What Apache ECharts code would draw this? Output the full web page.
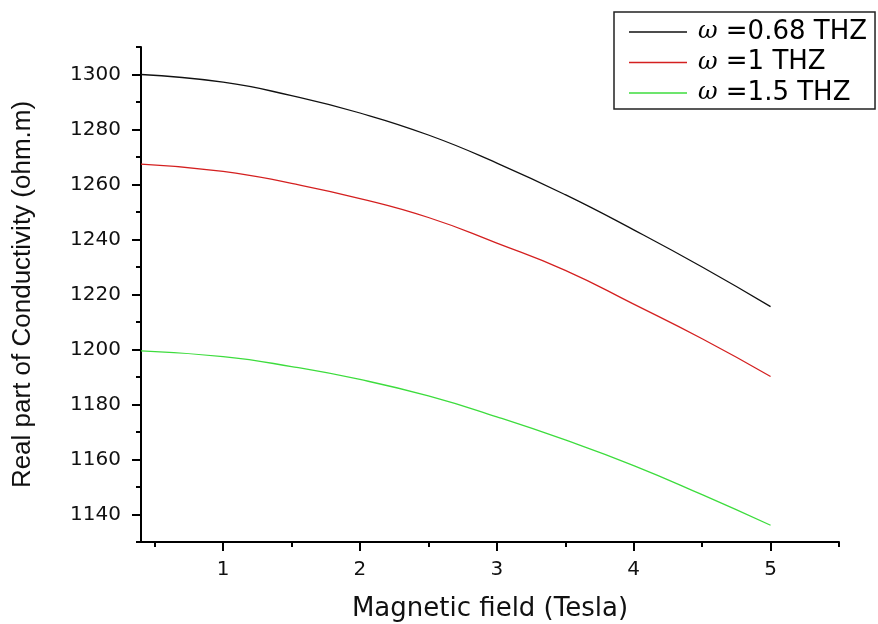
<!DOCTYPE html>
<html>
<head>
<meta charset="utf-8">
<script src="https://cdn.jsdelivr.net/npm/echarts@6/dist/echarts.min.js"></script>
<style>
html,body{margin:0;padding:0;background:#fff;}
#c{width:878px;height:624px;}
</style>
</head>
<body>
<div id="c"></div>
<script>
// ---- data ----
const bField = [0.4, 1, 1.5, 2, 2.5, 3, 3.5, 4, 4.5, 5];
const sigma068 = [1300.0, 1297.2, 1292.3, 1286.0, 1278.0, 1267.8, 1256.3, 1243.5, 1230.0, 1215.6];
const sigma1 = [1267.4, 1264.8, 1260.4, 1254.9, 1248.0, 1238.7, 1228.8, 1216.5, 1203.9, 1190.2];
const sigma15 = [1199.5, 1197.4, 1193.8, 1189.1, 1183.1, 1175.5, 1167.1, 1157.8, 1147.2, 1136.1];
const seriesNames = ['ω =0.68 THZ', 'ω =1 THZ', 'ω =1.5 THZ'];
const xMajorTicks = [1, 2, 3, 4, 5];
const xMinorTicks = [0.5, 1.5, 2.5, 3.5, 4.5, 5.5];
const yMajorTicks = [1140, 1160, 1180, 1200, 1220, 1240, 1260, 1280, 1300];
const yMinorTicks = [1130, 1150, 1170, 1190, 1210, 1230, 1250, 1270, 1290, 1310];
const xTitle = 'Magnetic field (Tesla)';
const yTitle = 'Real part of Conductivity (ohm.m)';

const toPairs = arr => bField.map((b, i) => [b, arr[i]]);
const seriesValues = [sigma068, sigma1, sigma15];
const colors = ['#111111', '#d42020', '#3ddc3d'];

const chart = echarts.init(document.getElementById('c'), null, {renderer: 'canvas'});
const axisLine = {show: true, onZero: false, lineStyle: {color: '#000', width: 2}};
chart.setOption({
  animation: false,
  backgroundColor: '#fff',
  grid: {left: 141, right: 39, top: 47, bottom: 82, containLabel: false, outerBoundsMode: 'none'},
  legend: {
    orient: 'vertical',
    left: 614, top: 12,
    padding: [7, 8, 3, 15],
    itemGap: 4.5,
    itemWidth: 58, itemHeight: 1.6,
    borderColor: '#222', borderWidth: 1.5,
    backgroundColor: '#fff',
    data: seriesNames.map(n => ({name: n, icon: 'rect'})),
    formatter: name => '{w|' + name.charAt(0) + '}{t|' + name.slice(1) + '}',
    textStyle: {
      rich: {
        w: {fontFamily: 'DejaVu Serif', fontStyle: 'italic', fontSize: 24, color: '#000', padding: [0, 0, 0, 6], lineHeight: 27},
        t: {fontFamily: 'DejaVu Sans', fontSize: 26, color: '#000', lineHeight: 27}
      }
    }
  },
  xAxis: [{
    type: 'value', min: 0.4, max: 5.5, position: 'bottom',
    axisLine: axisLine,
    splitLine: {show: false},
    axisTick: {show: true, inside: false, length: 9, lineStyle: {color: '#000', width: 2}, customValues: xMajorTicks},
    axisLabel: {customValues: xMajorTicks, fontFamily: 'DejaVu Sans', fontSize: 20, color: '#111', margin: 18,
      formatter: v => String(v)},
    name: xTitle, nameLocation: 'middle', nameGap: 54,
    nameTextStyle: {fontFamily: 'DejaVu Sans', fontSize: 26, color: '#111'}
  }, {
    type: 'value', min: 0.4, max: 5.5, position: 'bottom', offset: 0,
    axisLine: {show: false},
    splitLine: {show: false},
    axisTick: {show: true, inside: false, length: 5, lineStyle: {color: '#000', width: 2}, customValues: xMinorTicks},
    axisLabel: {show: false}
  }],
  yAxis: [{
    type: 'value', min: 1130, max: 1310, position: 'left',
    axisLine: axisLine,
    splitLine: {show: false},
    axisTick: {show: true, inside: false, length: 9, lineStyle: {color: '#000', width: 2}, customValues: yMajorTicks},
    axisLabel: {customValues: yMajorTicks, fontFamily: 'DejaVu Sans', fontSize: 20, color: '#111', margin: 20,
      formatter: v => String(v)},
    name: yTitle, nameLocation: 'middle', nameGap: 105, nameRotate: 90,
    nameTextStyle: {fontFamily: 'Liberation Sans', fontSize: 26, color: '#111'}
  }, {
    type: 'value', min: 1130, max: 1310, position: 'left', offset: 0,
    axisLine: {show: false},
    splitLine: {show: false},
    axisTick: {show: true, inside: false, length: 5, lineStyle: {color: '#000', width: 2}, customValues: yMinorTicks},
    axisLabel: {show: false}
  }],
  series: seriesNames.map((n, i) => ({
    name: n,
    type: 'line',
    xAxisIndex: 0, yAxisIndex: 0,
    smooth: true,
    symbol: 'none',
    data: toPairs(seriesValues[i]),
    lineStyle: {color: colors[i], width: 1.3},
    itemStyle: {color: colors[i]}
  }))
});
</script>
</body>
</html>
